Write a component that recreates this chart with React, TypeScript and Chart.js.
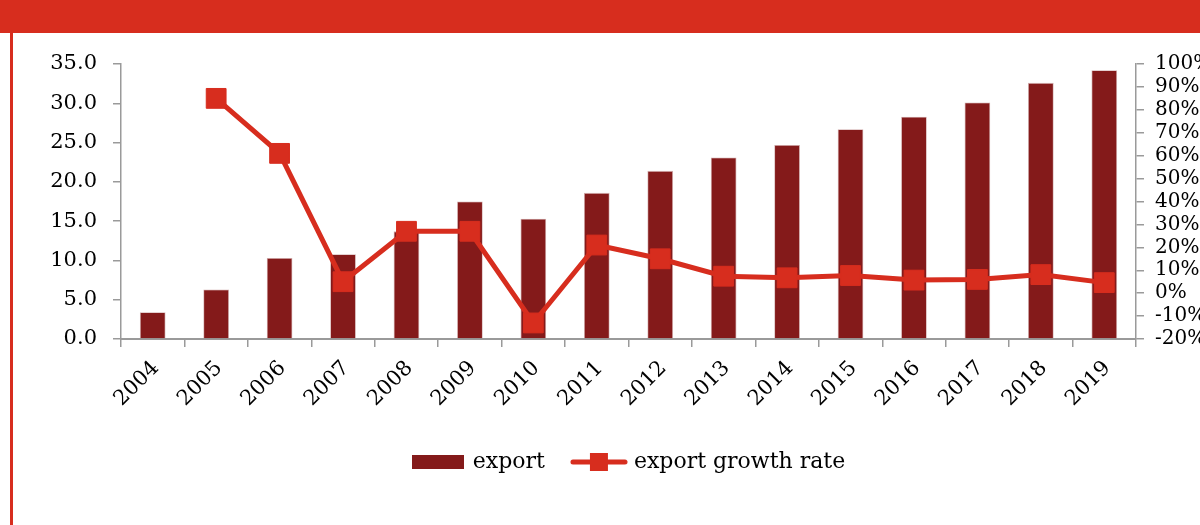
import { useEffect, useRef } from 'react';
import { Chart, registerables } from 'chart.js';

Chart.register(...registerables);

const years = ['2004', '2005', '2006', '2007', '2008', '2009', '2010', '2011', '2012', '2013', '2014', '2015', '2016', '2017', '2018', '2019'];
const exportValues = [3.4, 6.3, 10.3, 10.8, 13.7, 17.5, 15.3, 18.6, 21.4, 23.1, 24.7, 26.7, 28.3, 30.1, 32.6, 34.2];
const growthRates: (number | null)[] = [null, 85, 61, 5, 27, 27, -13, 21, 15, 7.4, 6.7, 7.7, 5.7, 6.0, 8.1, 4.6];
const seriesNames = ['export', 'export growth rate'];

const RED = '#D72D1E';
const DARK = '#841A1A';
const AXIS = '#9a9a9a';
const FONT = 'DejaVu Serif';

function makeBarIcon(): HTMLCanvasElement {
  const c = document.createElement('canvas');
  c.width = 52;
  c.height = 14;
  const g = c.getContext('2d')!;
  g.fillStyle = DARK;
  g.fillRect(0, 0, 52, 14);
  return c;
}

function makeLineIcon(): HTMLCanvasElement {
  const c = document.createElement('canvas');
  c.width = 58;
  c.height = 20;
  const g = c.getContext('2d')!;
  g.strokeStyle = RED;
  g.lineWidth = 5;
  g.lineCap = 'round';
  g.beginPath();
  g.moveTo(3, 10);
  g.lineTo(55, 10);
  g.stroke();
  g.fillStyle = RED;
  g.fillRect(20, 1, 18, 18);
  return c;
}

export default function App() {
  const ref = useRef<HTMLCanvasElement | null>(null);

  useEffect(() => {
    if (!ref.current) return;
    const barIcon = makeBarIcon();
    const lineIcon = makeLineIcon();
    const chart = new Chart(ref.current, {
      type: 'bar',
      data: {
        labels: years,
        datasets: [
          {
            type: 'bar',
            label: seriesNames[0],
            data: exportValues,
            backgroundColor: DARK,
            borderColor: 'rgba(190,140,140,0.7)',
            borderWidth: 0.8,
            barPercentage: 0.405,
            categoryPercentage: 1,
            yAxisID: 'y',
            order: 1,
          },
          {
            type: 'line',
            label: seriesNames[1],
            data: growthRates,
            borderColor: RED,
            backgroundColor: RED,
            borderWidth: 5,
            pointStyle: 'rect',
            pointRadius: 14,
            pointHoverRadius: 14,
            pointBorderWidth: 1,
            pointBackgroundColor: RED,
            pointBorderColor: RED,
            tension: 0,
            yAxisID: 'y1',
            order: 0,
          } as any,
        ],
      },
      options: {
        responsive: false,
        animation: false,
        layout: { padding: { left: 0, right: 0, top: 31, bottom: 42 } },
        plugins: {
          tooltip: { enabled: false },
          legend: {
            position: 'bottom',
            labels: {
              usePointStyle: true,
              pointStyleWidth: 48,
              padding: 30,
              color: '#000',
              font: { family: FONT, size: 22 },
              generateLabels: () => [
                { text: seriesNames[0], pointStyle: barIcon as any, fillStyle: DARK, strokeStyle: DARK, lineWidth: 0, hidden: false, datasetIndex: 0 },
                { text: seriesNames[1], pointStyle: lineIcon as any, fillStyle: RED, strokeStyle: RED, lineWidth: 0, hidden: false, datasetIndex: 1 },
              ],
            },
          },
        },
        scales: {
          x: {
            offset: true,
            grid: { display: true, drawOnChartArea: false, offset: true, tickLength: 8, color: AXIS, lineWidth: 1.5 },
            border: { color: AXIS, width: 2 },
            ticks: {
              autoSkip: false,
              minRotation: 45,
              maxRotation: 45,
              padding: 9,
              labelOffset: 3,
              color: '#000',
              font: { family: FONT, size: 21 },
            },
            afterFit: (s: any) => {
              s.height = 82;
            },
          },
          y: {
            position: 'left',
            min: 0,
            max: 35,
            grid: { display: true, drawOnChartArea: false, tickLength: 8, color: AXIS, lineWidth: 1.5 },
            border: { color: AXIS, width: 1.5 },
            ticks: {
              stepSize: 5,
              padding: 16,
              autoSkip: false,
              color: '#000',
              font: { family: FONT, size: 21 },
              callback: (v: any) => Number(v).toFixed(1),
            },
            afterFit: (s: any) => {
              s.width = 108;
            },
          },
          y1: {
            position: 'right',
            min: -20,
            max: 100,
            grid: { display: true, drawOnChartArea: false, tickLength: 8, color: AXIS, lineWidth: 1.5 },
            border: { color: AXIS, width: 1.5 },
            ticks: {
              stepSize: 10,
              padding: 11,
              autoSkip: false,
              color: '#000',
              font: { family: FONT, size: 20 },
              callback: (v: any) => `${v}%`,
            },
            afterFit: (s: any) => {
              s.width = 110;
            },
          },
        },
      },
    });
    return () => chart.destroy();
  }, []);

  return (
    <div style={{ position: 'fixed', left: 0, top: 0, width: 1200, height: 525, overflow: 'hidden', background: '#fff' }}>
      <div style={{ position: 'absolute', left: 0, top: 0, width: 1200, height: 33, background: RED }} />
      <div style={{ position: 'absolute', left: 10, top: 33, width: 3, height: 492, background: RED }} />
      <canvas ref={ref} width={1233} height={492} style={{ position: 'absolute', left: 13, top: 33, width: 1233, height: 492 }} />
    </div>
  );
}
